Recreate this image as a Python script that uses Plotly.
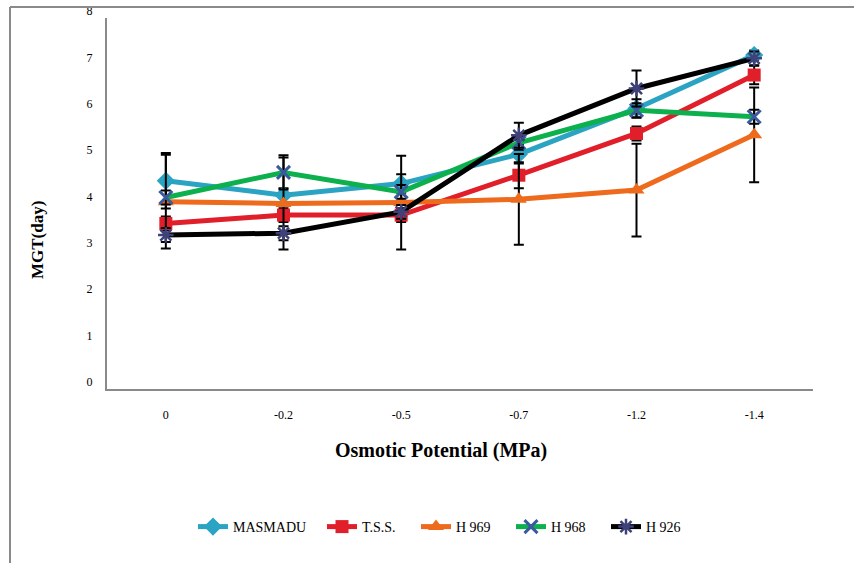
import plotly.graph_objects as go

# ---- data ----
categories = ["0", "-0.2", "-0.5", "-0.7", "-1.2", "-1.4"]
series_names = ["MASMADU", "T.S.S.", "H 969", "H 968", "H 926"]
masmadu = [4.49, 4.18, 4.43, 5.06, 6.05, 7.20]
tss = [3.57, 3.75, 3.75, 4.61, 5.51, 6.77]
h969 = [4.04, 4.00, 4.02, 4.09, 4.29, 5.48]
h968 = [4.13, 4.67, 4.25, 5.31, 6.01, 5.87]
h926 = [3.32, 3.36, 3.82, 5.47, 6.48, 7.13]
err_masmadu = [0.60, 0.15, 0.20, 0.20, 0.20, 0.10]
err_tss = [0.15, 0.15, 0.15, 0.28, 0.15, 0.20]
err_h969 = [1.01, 0.99, 1.01, 0.98, 1.00, 1.02]
err_h968 = [0.15, 0.37, 0.15, 0.15, 0.15, 0.15]
err_h926 = [0.15, 0.15, 0.15, 0.27, 0.39, 0.15]
y_ticks = [0, 1, 2, 3, 4, 5, 6, 7, 8]

values = [masmadu, tss, h969, h968, h926]
errors = [err_masmadu, err_tss, err_h969, err_h968, err_h926]
line_colors = ["#2ba3c2", "#e01f2a", "#ee6a1c", "#0cb04c", "#000000"]
marker_styles = [
    dict(symbol="diamond", size=14, color="#2ba3c2"),
    dict(symbol="square", size=13, color="#e01f2a"),
    dict(symbol="triangle-up", size=14, color="#ee6a1c"),
    dict(symbol="x-thin-open", size=13, color="#3a5a9e", line=dict(width=3, color="#3a5a9e")),
    dict(symbol="asterisk-open", size=13, color="#3f4278", line=dict(width=2.5, color="#3f4278")),
]
legend_ids = ["legend", "legend2", "legend3", "legend4", "legend5"]
legend_px = [193, 322, 416, 511, 606]

FONT = "Liberation Serif, Times New Roman, serif"

fig = go.Figure()
for name, vals, errs, col, mk, lid in zip(series_names, values, errors, line_colors, marker_styles, legend_ids):
    fig.add_trace(go.Scatter(
        x=categories, y=vals, name=name, mode="lines+markers",
        line=dict(color=col, width=5),
        marker=mk, legend=lid,
        error_y=dict(type="data", array=errs, visible=True, color="black", thickness=2, width=5),
    ))

L, R, T, B = 107, 41, 18, 174
W, H = 854, 563
pw, ph = W - L - R, H - T - B

def px(x):
    return (x - L) / pw

def py(y):
    return (H - B - y) / ph

legend_layout = {}
for lid, lx in zip(legend_ids, legend_px):
    legend_layout[lid] = dict(orientation="h", x=px(lx), xanchor="left", y=py(527), yanchor="middle",
                              font=dict(family=FONT, size=14, color="black"),
                              bgcolor="rgba(0,0,0,0)", borderwidth=0)

fig.update_layout(
    width=W, height=H,
    margin=dict(l=L, r=R, t=T, b=B, autoexpand=False),
    paper_bgcolor="white", plot_bgcolor="white",
    font=dict(family=FONT, size=12, color="black"),
    showlegend=True,
    xaxis=dict(type="category", range=[-0.5, 5.5], showgrid=False, zeroline=False,
               showline=True, linecolor="#8a8a8a", linewidth=2, ticks="",
               ticklabelstandoff=14, tickfont=dict(family=FONT, size=12)),
    yaxis=dict(range=[0, 8], tickvals=y_ticks, showgrid=False, zeroline=False,
               showline=True, linecolor="#8a8a8a", linewidth=2, ticks="",
               ticklabelstandoff=10, ticklabelshift=-7, tickfont=dict(family=FONT, size=12)),
    shapes=[
        dict(type="line", xref="paper", yref="paper", x0=px(10), x1=px(856), y0=py(7), y1=py(7),
             line=dict(color="#8a8a8a", width=2)),
        dict(type="line", xref="paper", yref="paper", x0=px(10), x1=px(10), y0=py(7), y1=py(570),
             line=dict(color="#8a8a8a", width=2)),
    ],
    annotations=[
        dict(text="<b>Osmotic Potential (MPa)</b>", xref="paper", yref="paper",
             x=px(441), y=py(450), xanchor="center", yanchor="middle", showarrow=False,
             font=dict(family=FONT, size=20, color="black")),
        dict(text="<b>MGT(day)</b>", xref="paper", yref="paper", textangle=-90,
             x=px(37), y=py(240), xanchor="center", yanchor="middle", showarrow=False,
             font=dict(family=FONT, size=17, color="black")),
    ],
    **legend_layout,
)

fig.write_html("out.html")
